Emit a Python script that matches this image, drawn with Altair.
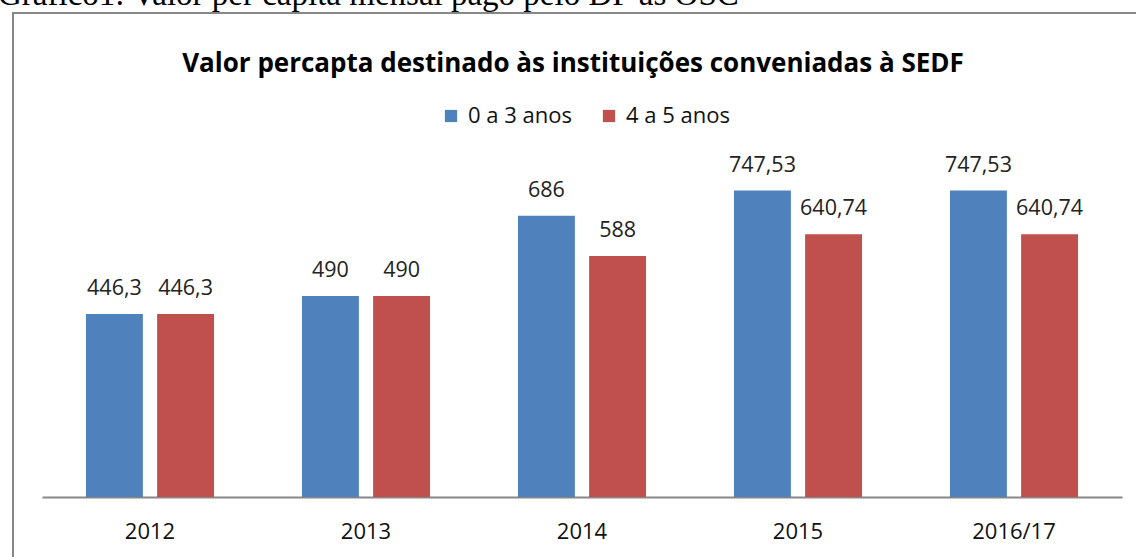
import altair as alt
import pandas as pd

years = ["2012", "2013", "2014", "2015", "2016/17"]
series = ["0 a 3 anos", "4 a 5 anos"]
values_0_3 = [446.3, 490, 686, 747.53, 747.53]
values_4_5 = [446.3, 490, 588, 640.74, 640.74]
labels_0_3 = ["446,3", "490", "686", "747,53", "747,53"]
labels_4_5 = ["446,3", "490", "588", "640,74", "640,74"]
colors = ["#4F81BD", "#C0504D"]

rows = []
for i, y in enumerate(years):
    rows.append({"ano": y, "serie": series[0], "valor": values_0_3[i], "rotulo": labels_0_3[i]})
    rows.append({"ano": y, "serie": series[1], "valor": values_4_5[i], "rotulo": labels_4_5[i]})
df = pd.DataFrame(rows)

FONT = "Open Sans"

x_enc = alt.X("ano:N", sort=years, title=None,
              scale=alt.Scale(paddingInner=0.407, paddingOuter=0.2035),
              axis=alt.Axis(labelAngle=0, labelFontSize=22, labelColor="#111111",
                            labelFont=FONT, ticks=False, domainColor="#878787",
                            domainWidth=2, labelPadding=24))
xoff = alt.XOffset("serie:N", sort=series, scale=alt.Scale(paddingInner=0.2, paddingOuter=0))
y_enc = alt.Y("valor:Q", scale=alt.Scale(domain=[0, 900]), axis=None)

base = alt.Chart(df)

bars = base.mark_bar().encode(
    x=x_enc, xOffset=xoff, y=y_enc,
    color=alt.Color("serie:N", sort=series, scale=alt.Scale(domain=series, range=colors),
                    legend=alt.Legend(title=None, orient="none", legendX=398, legendY=-23,
                                      direction="horizontal", symbolType="square",
                                      symbolSize=150, symbolStrokeWidth=0,
                                      labelFontSize=22, labelFont=FONT, labelColor="#111111",
                                      columnPadding=26, labelOffset=6, labelLimit=300)),
)

texts = base.mark_text(baseline="alphabetic", dy=-19, fontSize=21.5, font=FONT, color="#222222").encode(
    x=alt.X("ano:N", sort=years), xOffset=alt.XOffset("serie:N", sort=series), y="valor:Q",
    text="rotulo:N",
)

one = pd.DataFrame({"k": [0]})
border = alt.Chart(one).mark_rect(fill=None, stroke="#878787", strokeWidth=2).encode(
    x=alt.value(-29), x2=alt.value(1110), y=alt.value(-115), y2=alt.value(450)
)
title = alt.Chart(one).mark_text(text="Valor percapta destinado às instituições conveniadas à SEDF",
                                 fontSize=26, fontWeight="bold", font=FONT, color="#000000",
                                 align="center", baseline="middle").encode(
    x=alt.value(531), y=alt.value(-64)
)
caption = alt.Chart(one).mark_text(text="Gráfico1: Valor per capita mensal pago pelo DF às OSC",
                                   fontSize=33, font="Liberation Serif", color="#000000",
                                   align="left", baseline="alphabetic").encode(
    x=alt.value(-44), y=alt.value(-123)
)

chart = alt.layer(border, caption, title, bars, texts).properties(
    width=1080, height=369,
    autosize=alt.AutoSizeParams(type="none"),
    padding={"left": 42, "top": 128, "right": 14, "bottom": 60},
).configure_view(stroke=None).resolve_scale(x="shared")

chart.save("out.html", embed_options={"renderer": "svg", "actions": False})
